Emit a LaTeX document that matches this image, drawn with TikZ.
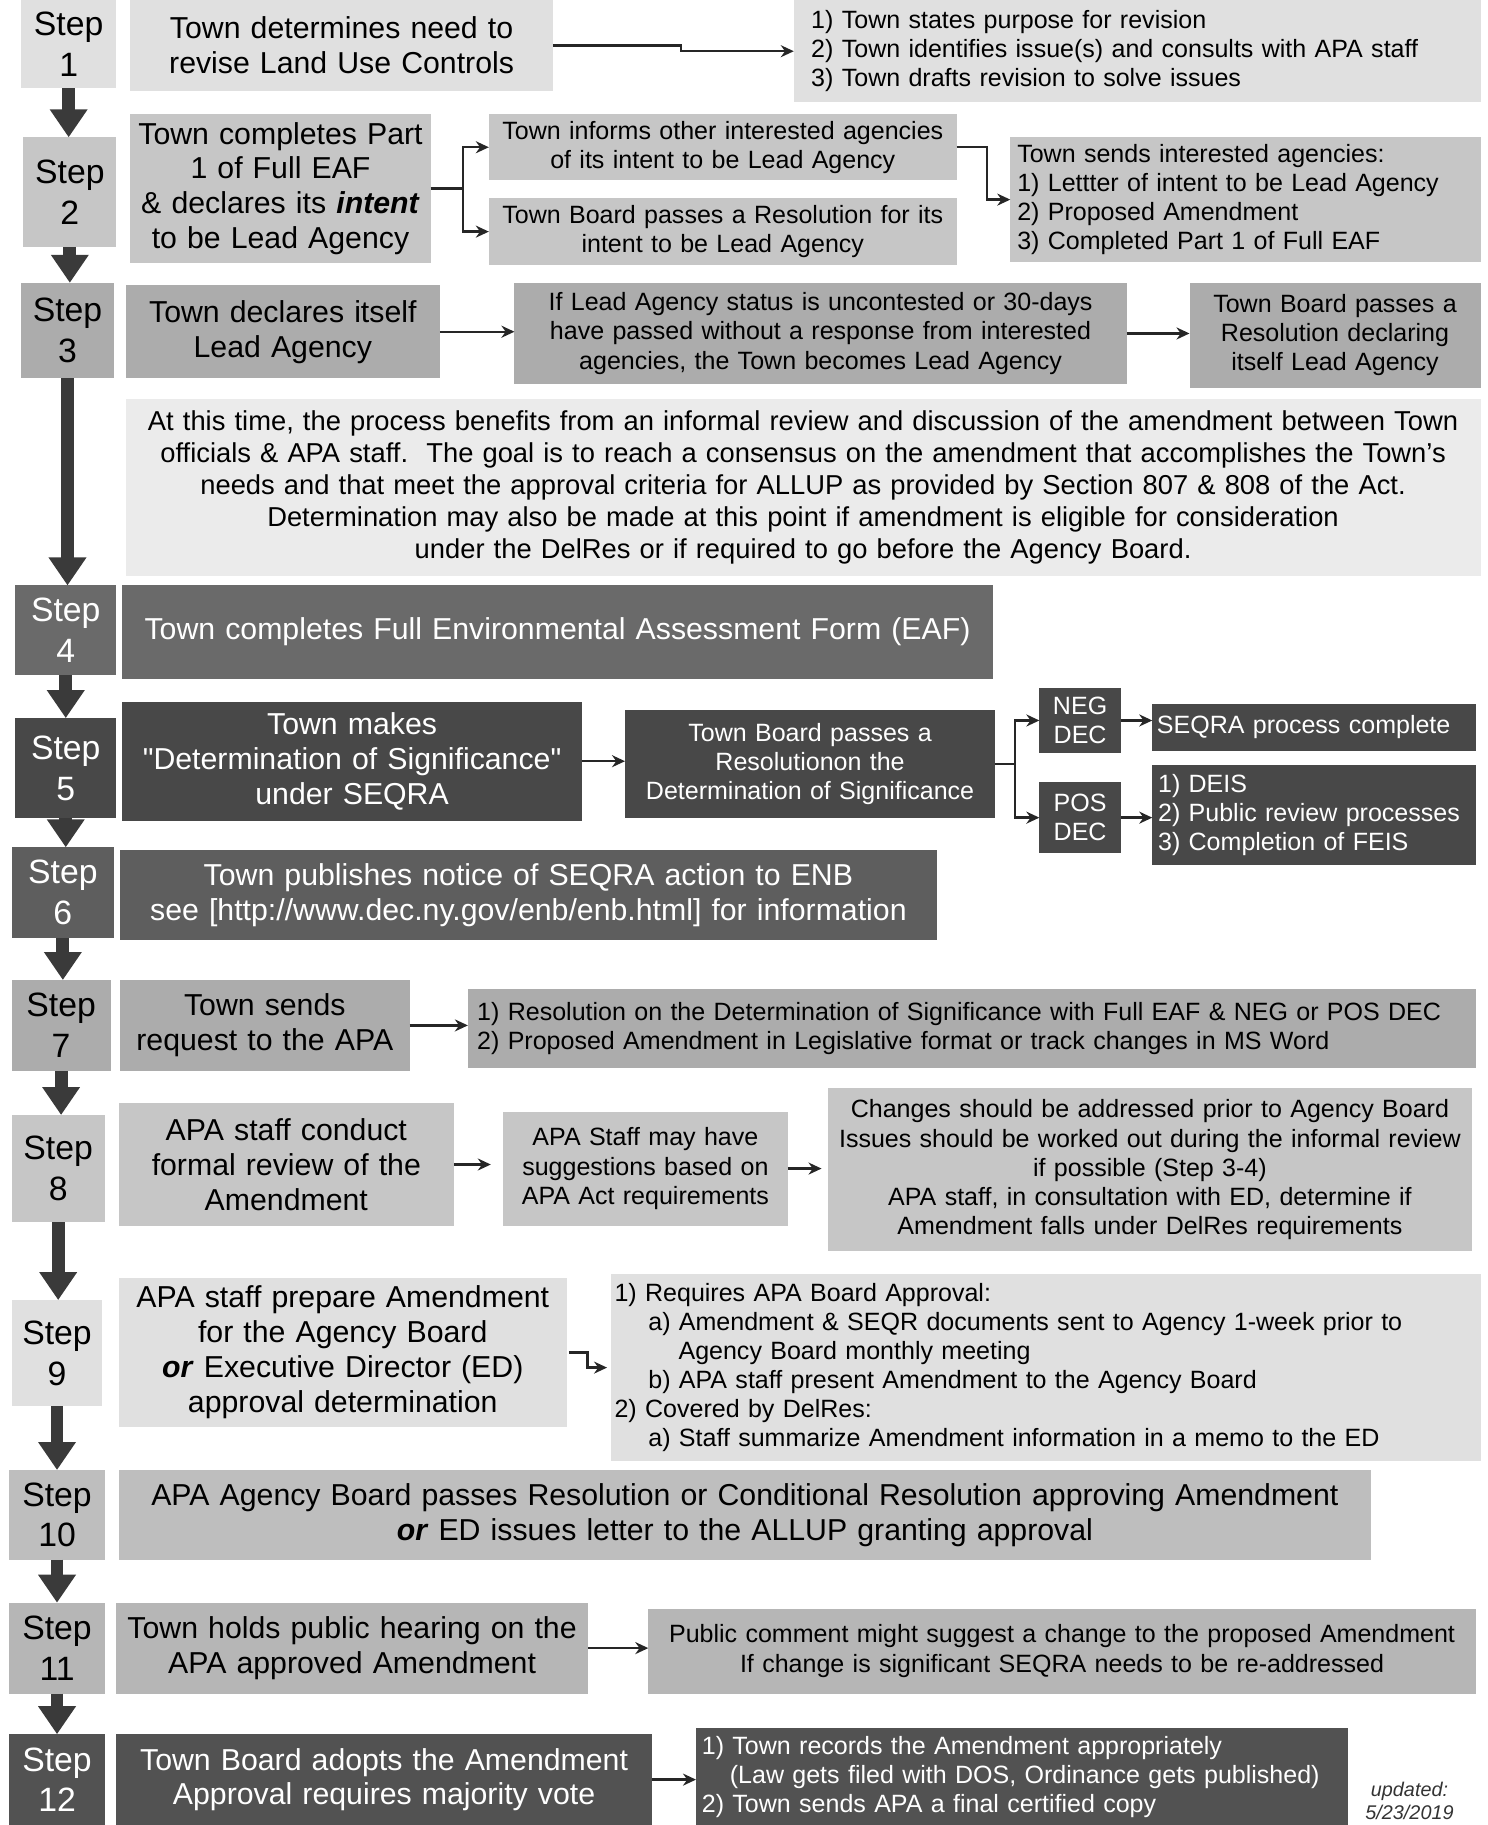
\documentclass[tikz,border=0pt]{standalone}
\usepackage{fontspec}
\setmainfont{Liberation Sans}
\usetikzlibrary{arrows.meta}
\hyphenpenalty=10000
\exhyphenpenalty=10000
\newcommand\sq{\XeTeXglyph\XeTeXcharglyph"22\relax}
\definecolor{cA}{HTML}{E0E0E0}
\definecolor{cB}{HTML}{C6C6C6}
\definecolor{cC}{HTML}{ACACAC}
\definecolor{cN}{HTML}{EBEBEB}
\definecolor{cD}{HTML}{6A6A6A}
\definecolor{cE}{HTML}{484848}
\definecolor{cF}{HTML}{5E5E5E}
\definecolor{cG}{HTML}{BEBEBE}
\definecolor{cI}{HTML}{B6B6B6}
\definecolor{cH}{HTML}{525252}
\definecolor{arr}{HTML}{3A3A3A}
\newcommand\mybox[8]{%
  \pgfmathsetlengthmacro\bxw{(#5-#3)*0.5818pt}%
  \pgfmathsetlengthmacro\bxh{(#6-#4)*0.5818pt}%
  \pgfmathsetlengthmacro\bxt{(#5-#3-2*#7)*0.5818pt}%
  \pgfmathsetlengthmacro\bxp{#7*0.5818pt}%
  \node[#1, anchor=north west, minimum width=\bxw, minimum height=\bxh, text width=\bxt, inner xsep=\bxp, inner ysep=0pt, outer sep=0pt] (#2) at (#3,#4) {#8};%
}
\begin{document}
\hyphenpenalty=10000
\begin{tikzpicture}[x=0.5818pt,y=-0.5818pt,
  f29/.style={font=\fontsize{16.87pt}{20.36pt}\selectfont, align=center},
  f26/.style={font=\fontsize{15.13pt}{17.45pt}\selectfont, align=center},
  f22/.style={font=\fontsize{12.51pt}{14.55pt}\selectfont},
  ctr/.style={align=center},
  lft/.style={align=left},
  dark/.style={text=white},
  stepbox/.style={f29},
  blk/.style={draw=arr, line width=6.4pt, -{Triangle[width=18pt,length=14pt]}},
  conn/.style={draw=black!85, line width=1.2pt, -{Stealth[length=6.5pt,width=6pt]}},
]
\useasboundingbox (0,0) rectangle (1278,1568);

% ---------- Row 1
\mybox{stepbox,fill=cA}{S1}{18}{0}{100}{76}{2}{Step\\1}
\mybox{f26,fill=cA}{B1}{112}{0}{475}{78}{2}{Town determines need to\\revise Land Use Controls}
\mybox{f22,lft,fill=cA}{R1}{682}{0}{1272}{88}{15}{1) Town states purpose for revision\\2) Town identifies issue(s) and consults with APA staff\\3) Town drafts revision to solve issues}
\draw[conn] (B1.east) -- ++(110,0) |- (R1.west);

% ---------- Row 2
\mybox{stepbox,fill=cB}{S2}{20}{118}{100}{212}{2}{Step\\2}
\mybox{f26,fill=cB}{B2}{112}{98}{370}{226}{2}{Town completes Part\\1 of Full EAF\\\& declares its \textbf{\textit{intent}}\\to be Lead Agency}
\mybox{f22,ctr,fill=cB}{B2a}{420}{98}{822}{155}{2}{Town informs other interested agencies\\of its intent to be Lead Agency}
\mybox{f22,ctr,fill=cB}{B2b}{420}{170}{822}{228}{2}{Town Board passes a Resolution for its\\intent to be Lead Agency}
\mybox{f22,lft,fill=cB}{R2}{868}{118}{1272}{225}{6}{Town sends interested agencies:\\1) Lettter of intent to be Lead Agency\\2) Proposed Amendment\\3) Completed Part 1 of Full EAF}
\draw[conn, -] (B2.east) -- ++(28,0) coordinate (f2);
\draw[conn] (f2) |- (B2a.west);
\draw[conn] (f2) |- (B2b.west);
\draw[conn] (B2a.east) -- ++(26,0) |- (R2.west);

% ---------- Row 3
\mybox{stepbox,fill=cC}{S3}{18}{243}{98}{325}{2}{Step\\3}
\mybox{f26,fill=cC}{B3}{108}{245}{378}{325}{2}{Town declares itself\\Lead Agency}
\mybox{f22,ctr,fill=cC}{B3a}{442}{243}{968}{330}{2}{If Lead Agency status is uncontested or 30-days\\have passed without a response from interested\\agencies, the Town becomes Lead Agency}
\mybox{f22,ctr,fill=cC}{B3b}{1022}{243}{1272}{333}{2}{Town Board passes a\\Resolution declaring\\itself Lead Agency}
\draw[conn] (B3.east) -- (B3.east -| B3a.west);
\draw[conn] (B3a.east) -- (B3a.east -| B3b.west);

% ---------- Note
\mybox{font=\fontsize{13.67pt}{16pt}\selectfont,ctr,fill=cN}{N}{108}{343}{1272}{495}{2}{At this time, the process benefits from an informal review and discussion of the amendment between Town\\officials \& APA staff.\ \ The goal is to reach a consensus on the amendment that accomplishes the Town’s\\needs and that meet the approval criteria for ALLUP as provided by Section 807 \& 808 of the Act.\\Determination may also be made at this point if amendment is eligible for consideration\\under the DelRes or if required to go before the Agency Board.}

% ---------- Row 4
\mybox{stepbox,dark,fill=cD}{S4}{13}{503}{100}{580}{2}{Step\\4}
\mybox{f26,dark,fill=cD}{B4}{105}{503}{853}{583}{2}{Town completes Full Environmental Assessment Form (EAF)}

% ---------- Row 5
\mybox{stepbox,dark,fill=cE}{S5}{13}{617}{100}{703}{2}{Step\\5}
\mybox{f26,dark,fill=cE}{B5}{105}{603}{500}{705}{2}{Town makes\\\sq Determination of Significance\sq\\under SEQRA}
\mybox{f22,ctr,dark,fill=cE}{B5a}{537}{610}{855}{703}{2}{Town Board passes a\\Resolutionon the\\Determination of Significance}
\mybox{f22,ctr,dark,fill=cE}{NEG}{893}{591}{963}{647}{1}{NEG\\DEC}
\mybox{f22,ctr,dark,fill=cE}{POS}{893}{672}{963}{733}{1}{POS\\DEC}
\mybox{f22,lft,dark,fill=cE}{R5a}{990}{605}{1268}{645}{4}{SEQRA process complete}
\mybox{f22,lft,dark,fill=cE}{R5b}{990}{657}{1268}{743}{5}{1) DEIS\\2) Public review processes\\3) Completion of FEIS}
\draw[conn] (B5.east) -- (B5.east -| B5a.west);
\draw[conn, -] (B5a.east) -- ++(17,0) coordinate (f5);
\draw[conn] (f5) |- (NEG.west);
\draw[conn] (f5) |- (POS.west);
\draw[conn] (NEG.east) -- (NEG.east -| R5a.west);
\draw[conn] (POS.east) -- (POS.east -| R5b.west);

% ---------- Row 6
\mybox{stepbox,dark,fill=cF}{S6}{10}{728}{98}{806}{2}{Step\\6}
\mybox{f26,dark,fill=cF}{B6}{103}{730}{805}{808}{2}{Town publishes notice of SEQRA action to ENB\\see [http://www.dec.ny.gov/enb/enb.html] for information}

% ---------- Row 7
\mybox{stepbox,fill=cC}{S7}{10}{842}{95}{920}{2}{Step\\7}
\mybox{f26,fill=cC}{B7}{103}{842}{352}{920}{2}{Town sends\\request to the APA}
\mybox{f22,lft,fill=cC}{R7}{402}{850}{1268}{918}{8}{1) Resolution on the Determination of Significance with Full EAF \& NEG or POS DEC\\2) Proposed Amendment in Legislative format or track changes in MS Word}
\draw[conn] (B7.east) -- (B7.east -| R7.west);

% ---------- Row 8
\mybox{stepbox,fill=cB}{S8}{10}{958}{90}{1050}{2}{Step\\8}
\mybox{f26,fill=cB}{B8}{102}{948}{390}{1053}{2}{APA staff conduct\\formal review of the\\Amendment}
\mybox{f22,ctr,fill=cB}{B8a}{432}{955}{677}{1053}{2}{APA Staff may have\\suggestions based on\\APA Act requirements}
\mybox{f22,ctr,fill=cB}{B8b}{711}{935}{1265}{1075}{2}{Changes should be addressed prior to Agency Board\\Issues should be worked out during the informal review\\if possible (Step 3-4)\\APA staff, in consultation with ED, determine if\\Amendment falls under DelRes requirements}
\draw[conn, shorten >=6pt] (B8.east) -- (B8.east -| B8a.west);
\draw[conn, shorten >=3pt] (B8a.east) -- (B8a.east -| B8b.west);

% ---------- Row 9
\mybox{stepbox,fill=cA}{S9}{10}{1117}{88}{1208}{2}{Step\\9}
\mybox{f26,fill=cA}{B9}{102}{1098}{487}{1226}{2}{APA staff prepare Amendment\\for the Agency Board\\\textbf{\textit{or}} Executive Director (ED)\\approval determination}
\mybox{f22,lft,fill=cA}{R9}{525}{1095}{1272}{1255}{3}{1) Requires APA Board Approval:\\\hspace*{16.9pt}a) Amendment \& SEQR documents sent to Agency 1-week prior to\\\hspace*{32pt}Agency Board monthly meeting\\\hspace*{16.9pt}b) APA staff present Amendment to the Agency Board\\2) Covered by DelRes:\\\hspace*{16.9pt}a) Staff summarize Amendment information in a memo to the ED}
\draw[conn, shorten >=2pt] ([xshift=1pt]B9.east) -- ++(16,0) |- (R9.west);

% ---------- Row 10
\mybox{stepbox,fill=cG}{S10}{8}{1263}{90}{1340}{2}{Step\\10}
\mybox{f26,fill=cG}{B10}{102}{1263}{1178}{1340}{2}{APA Agency Board passes Resolution or Conditional Resolution approving Amendment\\\textbf{\textit{or}} ED issues letter to the ALLUP granting approval}

% ---------- Row 11
\mybox{stepbox,fill=cI}{S11}{8}{1377}{90}{1455}{2}{Step\\11}
\mybox{f26,fill=cI}{B11}{100}{1377}{505}{1455}{2}{Town holds public hearing on the\\APA approved Amendment}
\mybox{f22,ctr,fill=cI}{R11}{557}{1382}{1268}{1455}{2}{Public comment might suggest a change to the proposed Amendment\\If change is significant SEQRA needs to be re-addressed}
\draw[conn] (B11.east) -- (B11.east -| R11.west);

% ---------- Row 12
\mybox{stepbox,dark,fill=cH}{S12}{8}{1490}{90}{1568}{2}{Step\\12}
\mybox{f26,dark,fill=cH}{B12}{100}{1490}{560}{1568}{2}{Town Board adopts the Amendment\\Approval requires majority vote}
\mybox{f22,lft,dark,fill=cH}{R12}{598}{1485}{1158}{1568}{5}{1) Town records the Amendment appropriately\\\hspace*{14pt}(Law gets filed with DOS, Ordinance gets published)\\2) Town sends APA a final certified copy}
\draw[conn] (B12.east) -- (B12.east -| R12.west);
\node[font=\fontsize{9.9pt}{11.6pt}\selectfont\itshape, align=center, text=black!80] (upd) at (1211,1547) {updated:\\5/23/2019};

% ---------- Block arrows down the left
\draw[blk] (S1.south) -- (S1.south |- S2.north);
\draw[blk] (S2.south) -- (S2.south |- S3.north);
\draw[blk] (S3.south) -- (S3.south |- S4.north);
\draw[blk] (S4.south) -- (S4.south |- S5.north);
\draw[blk] (S5.south) -- (S5.south |- S6.north);
\draw[blk] (S6.south) -- (S6.south |- S7.north);
\draw[blk] (S7.south) -- (S7.south |- S8.north);
\draw[blk] (S8.south) -- (S8.south |- S9.north);
\draw[blk] (S9.south) -- (S9.south |- S10.north);
\draw[blk] (S10.south) -- (S10.south |- S11.north);
\draw[blk] (S11.south) -- (S11.south |- S12.north);
\end{tikzpicture}
\end{document}
